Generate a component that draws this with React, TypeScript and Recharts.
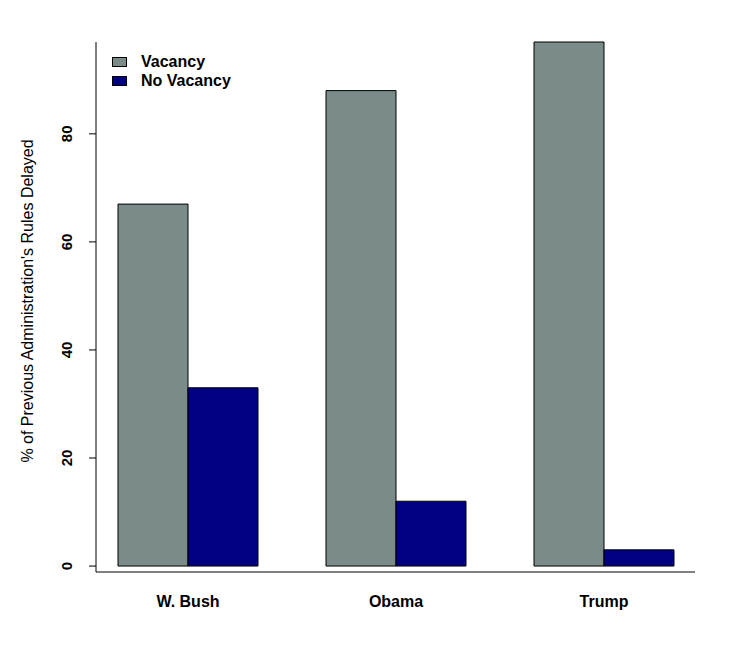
import React from 'react';
import { BarChart, Bar, XAxis, YAxis, Legend } from 'recharts';

const presidents = ['W. Bush', 'Obama', 'Trump'];
const vacancy = [67, 88, 97];
const noVacancy = [33, 12, 3];
const yTicks = [0, 20, 40, 60, 80];
const seriesNames = ['Vacancy', 'No Vacancy'];
const seriesColors = ['#7a8b89', '#000080'];
const yLabel = "% of Previous Administration's Rules Delayed";

const data = presidents.map((name, i) => ({
  name,
  vacancy: vacancy[i],
  noVacancy: noVacancy[i],
}));

const FONT = '"Liberation Sans", Arial, sans-serif';

function YTick({ x, y, payload }: { x?: number; y?: number; payload?: { value: number } }) {
  const cx = (x ?? 0) - 20;
  const cy = y ?? 0;
  return (
    <text
      x={cx}
      y={cy}
      transform={`rotate(-90 ${cx} ${cy})`}
      textAnchor="middle"
      dominantBaseline="central"
      fontFamily={FONT}
      fontSize={15}
      fontWeight="bold"
      fill="#000"
    >
      {payload?.value}
    </text>
  );
}

function XTick({ x, y, payload }: { x?: number; y?: number; payload?: { value: string } }) {
  return (
    <text
      x={x}
      y={(y ?? 0) + 27}
      textAnchor="middle"
      dominantBaseline="central"
      fontFamily={FONT}
      fontSize={16}
      fontWeight="bold"
      fill="#000"
    >
      {payload?.value}
    </text>
  );
}

function YLabel() {
  return (
    <text
      x={27}
      y={301}
      transform="rotate(-90 27 301)"
      textAnchor="middle"
      dominantBaseline="central"
      fontFamily={FONT}
      fontSize={16}
      fill="#000"
    >
      {yLabel}
    </text>
  );
}

function LegendBox() {
  return (
    <div style={{ fontFamily: FONT, fontSize: 16, fontWeight: 'bold', color: '#000' }}>
      {seriesNames.map((name, i) => (
        <div key={name} style={{ display: 'flex', alignItems: 'center', height: 19 }}>
          <span
            style={{
              display: 'inline-block',
              width: 13,
              height: 8,
              background: seriesColors[i],
              border: '1px solid #000',
              marginRight: 14,
            }}
          />
          <span>{name}</span>
        </div>
      ))}
    </div>
  );
}

export default function App() {
  return (
    <div style={{ position: 'absolute', left: 0, top: 0, background: '#fff' }}>
      <BarChart
        width={737}
        height={667}
        data={data}
        margin={{ top: 42, right: 42, bottom: 55, left: 0 }}
        barCategoryGap={34}
        barGap={0}
      >
        <XAxis
          dataKey="name"
          height={40}
          padding={{ left: -12, right: -13 }}
          tickLine={false}
          tickSize={0}
          axisLine={{ stroke: '#000', strokeWidth: 1 }}
          tick={<XTick />}
          interval={0}
        />
        <YAxis
          width={96}
          domain={[-1.1, 97]}
          ticks={yTicks}
          tickSize={7}
          tickLine={{ stroke: '#000' }}
          axisLine={{ stroke: '#000', strokeWidth: 1 }}
          tick={<YTick />}
          label={{ content: <YLabel /> }}
        />
        <Legend
          layout="vertical"
          align="center"
          verticalAlign="middle"
          wrapperStyle={{ position: 'absolute', left: 112, top: 52, width: 200 }}
          content={<LegendBox />}
        />
        <Bar dataKey="vacancy" name={seriesNames[0]} fill={seriesColors[0]} stroke="#000" strokeWidth={1} isAnimationActive={false} />
        <Bar dataKey="noVacancy" name={seriesNames[1]} fill={seriesColors[1]} stroke="#000" strokeWidth={1} isAnimationActive={false} />
      </BarChart>
    </div>
  );
}
